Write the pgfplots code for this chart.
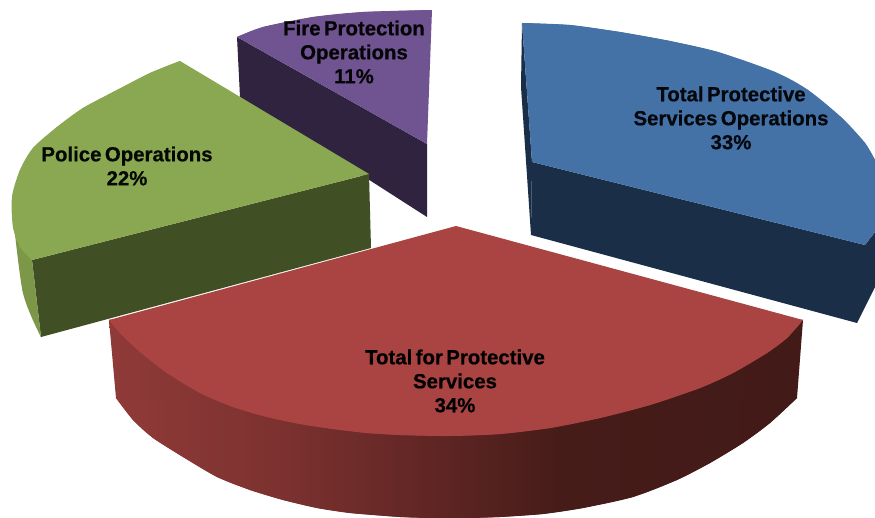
\documentclass[border=0pt]{standalone}
\usepackage{pgfplots}
\pgfplotsset{compat=1.18}
\usepackage{fontspec}
\setmainfont[WordSpace=0.6,BoldFeatures={FakeBold=0.5}]{Liberation Sans}

\definecolor{blueTop}{HTML}{4471A6}
\definecolor{blueSide}{HTML}{1A2E48}
\definecolor{redTop}{HTML}{A94442}
\definecolor{greenTop}{HTML}{8AA851}
\definecolor{greenSide}{HTML}{414F24}
\definecolor{greenRim}{HTML}{7B9747}
\definecolor{purpleTop}{HTML}{705491}
\definecolor{purpleSide}{HTML}{2F2340}
\definecolor{redA}{HTML}{8F3A38}
\definecolor{redB}{HTML}{7D3230}
\definecolor{redC}{HTML}{5E2523}
\definecolor{redD}{HTML}{461C19}
\definecolor{redE}{HTML}{421A17}

% rim of the largest slice, darkening from left to right
\pgfdeclarehorizontalshading{redrim}{100bp}{
  color(0bp)=(redA); color(25bp)=(redA); color(36.6bp)=(redB);
  color(48.9bp)=(redC); color(57.5bp)=(redD); color(75bp)=(redE); color(100bp)=(redE)}

\tikzset{slice label/.style={align=center, anchor=center, inner sep=0pt,
    font=\fontsize{20.4}{24}\selectfont\bfseries}}

\begin{document}
\begin{tikzpicture}
\begin{axis}[
  width=875pt, height=518pt, scale only axis,
  xmin=0, xmax=875, ymin=0, ymax=518, y dir=reverse,
  hide axis, clip=true,
  every axis plot/.append style={draw=none, line width=0pt, sharp plot},
]
% page background
\addplot[fill=white] coordinates {(0,0) (875,0) (875,518) (0,518)} -- cycle;

% Each face is a polygon; a smooth plot through its curved edge rounds that edge off.

% Fire Protection Operations, 11%
\addplot[fill=purpleSide] coordinates {(237,37) (427,144) (427,217) (240,97)} -- cycle;
\addplot[fill=purpleTop] coordinates {(237,37) (263,27) (313,17) (363,12) (432,10) (427,144)} -- cycle;
\addplot[fill=purpleTop, smooth] coordinates {(237,37) (263,27) (313,17) (363,12) (432,10)};

% Police Operations, 22%
\addplot[fill=greenSide] coordinates {(32,260) (369,174) (371,248) (41,337)} -- cycle;
\addplot[fill=greenRim] coordinates {(13,215) (23,293) (41,337) (32,260)} -- cycle;
\addplot[fill=greenRim, smooth] coordinates {(13,215) (23,293) (41,337)};
\addplot[fill=greenTop] coordinates {(180,61) (150,73) (117,90) (83,108) (57,127) (33,148) (20,170) (12,197) (13,227) (20,247) (32,260) (369,174)} -- cycle;
\addplot[fill=greenTop, smooth] coordinates {(180,61) (150,73) (117,90) (83,108) (57,127) (33,148) (20,170) (12,197) (13,227) (20,247) (32,260)};

% Total Protective Services Operations, 33%
\addplot[fill=blueSide] coordinates {(532,162) (865,245) (875,232) (875,287) (857,323) (531,235)} -- cycle;
\addplot[fill=blueSide] coordinates {(522,23) (521,87) (531,235) (532,162)} -- cycle;
\addplot[fill=blueTop] coordinates {(522,23) (570,25) (620,32) (670,41) (718,52) (775,72) (808,90) (842,118) (865,143) (875,160) (875,232) (865,245) (532,162)} -- cycle;
\addplot[fill=blueTop, smooth] coordinates {(522,23) (570,25) (620,32) (670,41) (718,52) (775,72) (808,90) (842,118) (865,143) (875,160)};

% Total for Protective Services, 34%
\addplot[shading=redrim] coordinates {
  (109,320) (116,398) (133,420) (153,438) (183,457) (217,477) (250,490)
  (283,500) (317,508) (350,513) (400,517) (433,518) (467,518) (500,517)
  (543,514) (583,508) (633,497) (677,480) (710,463) (743,443) (770,423)
  (797,398) (803,320)} -- cycle;
\addplot[shading=redrim, smooth] coordinates {
  (116,398) (133,420) (153,438) (183,457) (217,477) (250,490)
  (283,500) (317,508) (350,513) (400,517) (433,518) (467,518) (500,517)
  (543,514) (583,508) (633,497) (677,480) (710,463) (743,443) (770,423)
  (797,398)};
\addplot[fill=redTop] coordinates {
  (456,226) (803,320) (787,338) (767,353) (733,373) (700,388) (650,405)
  (600,418) (550,428) (500,434) (450,436) (400,435) (367,433)
  (333,429) (300,424) (267,417) (233,407) (200,393) (167,373) (140,352)
  (120,333) (109,320)} -- cycle;
\addplot[fill=redTop, smooth] coordinates {
  (803,320) (787,338) (767,353) (733,373) (700,388) (650,405)
  (600,418) (550,428) (500,434) (450,436) (400,435) (367,433)
  (333,429) (300,424) (267,417) (233,407) (200,393) (167,373) (140,352)
  (120,333) (109,320)};

% slice labels
\node[slice label, text=black!90!purpleSide] at (axis cs:354,52) {Fire Protection\\Operations\\11\%};
\node[slice label, text=black!90!greenSide] at (axis cs:127,166) {Police Operations\\22\%};
\node[slice label, text=black!85!blueSide] at (axis cs:731,118) {Total Protective\\Services Operations\\33\%};
\node[slice label, text=black] at (axis cs:455,381) {Total for Protective\\Services\\34\%};
\end{axis}
\end{tikzpicture}
\end{document}
